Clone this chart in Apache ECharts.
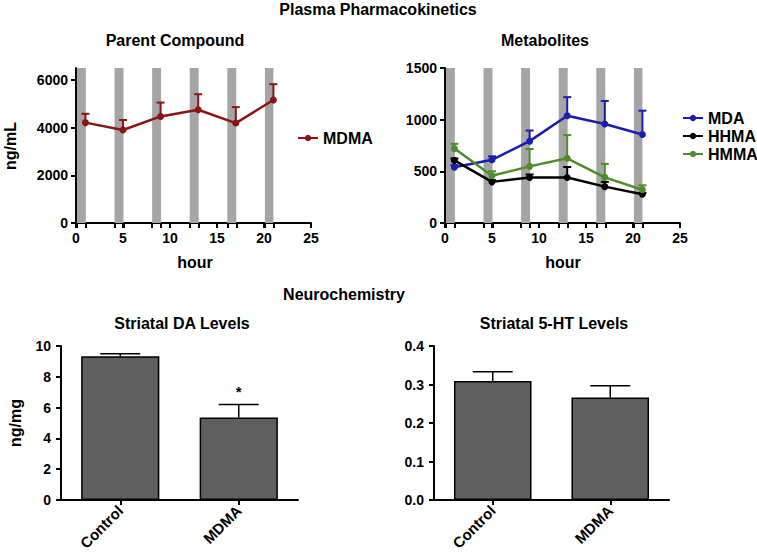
<!DOCTYPE html>
<html><head><meta charset="utf-8">
<script src="https://cdn.jsdelivr.net/npm/echarts@6/dist/echarts.min.js"></script>
<style>html,body{margin:0;padding:0;background:#fff}#c{width:757px;height:558px}</style>
</head><body><div id="c"></div>
<script>
// ---- data ----
const hours = [1, 5, 9, 13, 17, 21];
const bandStart = [0.1, 4.1, 8.1, 12.1, 16.1, 20.1];
const bandEnd = [1.05, 5.05, 9.05, 13.05, 17.05, 21.0];
const hourTicks = [0, 5, 10, 15, 20, 25];
const mdma = [4210, 3900, 4470, 4750, 4190, 5160];
const mdmaUpper = [4580, 4320, 5050, 5400, 4860, 5820];
const mda = [540, 612, 792, 1038, 958, 856];
const mdaUpper = [560, 645, 895, 1218, 1181, 1087];
const hhma = [606, 398, 441, 441, 352, 278];
const hhmaUpper = [624, 415, 470, 542, 398, 290];
const hmma = [720, 458, 548, 626, 442, 322];
const hmmaUpper = [766, 500, 716, 851, 572, 365];
const parentTicks = [0, 2000, 4000, 6000];
const groups = ['Control', 'MDMA'];
const daLevels = [9.33, 5.36];
const daUpper = [9.50, 6.20];
const daSig = ['', '*'];
const htLevels = [0.309, 0.266];
const htUpper = [0.333, 0.297];

const FONT = '"Liberation Sans", Arial, Helvetica, sans-serif';
const chart = echarts.init(document.getElementById('c'), null, {renderer: 'svg'});

const pairs = (xs, ys) => xs.map((x, i) => [x, ys[i]]);
const triples = (xs, ys, us) => xs.map((x, i) => [x, ys[i], us[i]]);
const bandData = bandStart.map((s, i) => [s, bandEnd[i], 0]);
const xTickVals = Array.from(new Set(hourTicks.concat(bandStart, bandEnd))).sort((a, b) => a - b);
const plain = v => String(v);

const axisLabelStyle = {color: '#000', fontFamily: FONT, fontWeight: 'bold', fontSize: 14};
const axisLineStyle = {show: true, lineStyle: {color: '#000', width: 2}};
const tickStyle = {show: true, length: 5, lineStyle: {color: '#000', width: 2}};

function bandSeries(ax) {
  return {
    type: 'custom', xAxisIndex: ax, yAxisIndex: ax, z: 1, silent: true,
    encode: {x: [0, 1], y: 2},
    data: bandData,
    renderItem: function (params, api) {
      const cs = params.coordSys;
      const a = api.coord([api.value(0), 0]);
      const b = api.coord([api.value(1), 0]);
      return {type: 'rect', shape: {x: a[0], y: cs.y, width: b[0] - a[0], height: cs.height},
        style: {fill: '#a5a5a5'}};
    }
  };
}
function errSeries(ax, data, color, half) {
  return {
    type: 'custom', xAxisIndex: ax, yAxisIndex: ax, z: 4, silent: true,
    encode: {x: 0, y: [1, 2]},
    data: data,
    renderItem: function (params, api) {
      const p0 = api.coord([api.value(0), api.value(1)]);
      const p1 = api.coord([api.value(0), api.value(2)]);
      const st = {stroke: color, lineWidth: 2};
      return {type: 'group', children: [
        {type: 'line', shape: {x1: p0[0], y1: p0[1], x2: p1[0], y2: p1[1]}, style: st},
        {type: 'line', shape: {x1: p1[0] - half, y1: p1[1], x2: p1[0] + half, y2: p1[1]}, style: st}
      ]};
    }
  };
}
function lineSeries(name, ax, data, color) {
  return {
    name: name, type: 'line', xAxisIndex: ax, yAxisIndex: ax, z: 5,
    data: data, symbol: 'circle', symbolSize: 7,
    lineStyle: {color: color, width: 2.5}, itemStyle: {color: color},
    animation: false
  };
}
function barErr(ax, idx, upper, labels) {
  return {
    type: 'custom', xAxisIndex: ax, yAxisIndex: ax, z: 4, silent: true,
    encode: {x: 0, y: [1, 2]},
    data: groups.map((g, i) => [i, idx[i], upper[i], labels ? labels[i] : '']),
    renderItem: function (params, api) {
      const p0 = api.coord([api.value(0), api.value(1)]);
      const p1 = api.coord([api.value(0), api.value(2)]);
      const st = {stroke: '#000', lineWidth: 1.5};
      const ch = [
        {type: 'line', shape: {x1: p0[0], y1: p0[1], x2: p1[0], y2: p1[1]}, style: st},
        {type: 'line', shape: {x1: p1[0] - 20, y1: p1[1], x2: p1[0] + 20, y2: p1[1]}, style: st}
      ];
      const t = api.value(3);
      if (t) ch.push({type: 'text', style: {text: t, x: p1[0], y: p1[1] - 6, align: 'center', verticalAlign: 'bottom',
        font: 'bold 15px ' + FONT, fill: '#000'}});
      return {type: 'group', children: ch};
    }
  };
}

function txt(text, x, y, size, rot) {
  return {type: 'text', x: x, y: y, rotation: rot || 0, silent: true,
    style: {text: text, font: 'bold ' + size + 'px ' + FONT, fill: '#000', align: 'center', verticalAlign: 'middle'}};
}

const option = {
  animation: false,
  backgroundColor: '#fff',
  graphic: [
    txt('Plasma Pharmacokinetics', 378, 9, 16),
    txt('Parent Compound', 175, 40, 16),
    txt('Metabolites', 545, 40, 16),
    txt('Neurochemistry', 344, 294, 16),
    txt('Striatal DA Levels', 182, 323.5, 16),
    txt('Striatal 5-HT Levels', 554, 323.5, 16),
    txt('hour', 195, 262, 16),
    txt('hour', 563, 262, 16),
    txt('ng/mL', 10, 146, 16, Math.PI / 2),
    txt('ng/mg', 15, 423, 16, Math.PI / 2)
  ],
  legend: [
    {data: ['MDMA'], left: 292, top: 125, itemWidth: 20, itemHeight: 8, orient: 'vertical',
      textStyle: {color: '#000', fontFamily: FONT, fontWeight: 'bold', fontSize: 16}, selectedMode: false},
    {data: ['MDA', 'HHMA', 'HMMA'], left: 677, top: 105, itemWidth: 20, itemHeight: 8, itemGap: 2, orient: 'vertical',
      textStyle: {color: '#000', fontFamily: FONT, fontWeight: 'bold', fontSize: 16}, selectedMode: false}
  ],
  grid: [
    {left: 76, top: 68, width: 235, height: 155, containLabel: false, outerBoundsMode: 'none'},
    {left: 445, top: 68, width: 235, height: 155, containLabel: false, outerBoundsMode: 'none'},
    {left: 61, top: 346, width: 237, height: 154, containLabel: false, outerBoundsMode: 'none'},
    {left: 434, top: 346, width: 235, height: 154, containLabel: false, outerBoundsMode: 'none'}
  ],
  xAxis: [
    {gridIndex: 0, type: 'value', min: 0, max: 25, interval: 5, splitLine: {show: false},
      axisLine: axisLineStyle, axisTick: Object.assign({customValues: xTickVals}, tickStyle),
      axisLabel: Object.assign({customValues: hourTicks, margin: 8, formatter: plain}, axisLabelStyle)},
    {gridIndex: 1, type: 'value', min: 0, max: 25, interval: 5, splitLine: {show: false},
      axisLine: axisLineStyle, axisTick: Object.assign({customValues: xTickVals}, tickStyle),
      axisLabel: Object.assign({customValues: hourTicks, margin: 8, formatter: plain}, axisLabelStyle)},
    {gridIndex: 2, type: 'category', data: groups, axisLine: axisLineStyle,
      axisTick: Object.assign({alignWithLabel: true}, tickStyle),
      axisLabel: Object.assign({}, axisLabelStyle, {rotate: 45, fontSize: 15, margin: 8})},
    {gridIndex: 3, type: 'category', data: groups, axisLine: axisLineStyle,
      axisTick: Object.assign({alignWithLabel: true}, tickStyle),
      axisLabel: Object.assign({}, axisLabelStyle, {rotate: 45, fontSize: 15, margin: 8})}
  ],
  yAxis: [
    {gridIndex: 0, type: 'value', min: 0, max: 6500, interval: 2000, splitLine: {show: false},
      axisLine: axisLineStyle, axisTick: Object.assign({customValues: parentTicks}, tickStyle),
      axisLabel: Object.assign({customValues: parentTicks, margin: 8, formatter: plain}, axisLabelStyle)},
    {gridIndex: 1, type: 'value', min: 0, max: 1500, interval: 500, splitLine: {show: false},
      axisLine: axisLineStyle, axisTick: tickStyle,
      axisLabel: Object.assign({margin: 8, formatter: plain}, axisLabelStyle)},
    {gridIndex: 2, type: 'value', min: 0, max: 10, interval: 2, splitLine: {show: false},
      axisLine: axisLineStyle, axisTick: tickStyle,
      axisLabel: Object.assign({margin: 10, formatter: plain}, axisLabelStyle)},
    {gridIndex: 3, type: 'value', min: 0, max: 0.4, interval: 0.1, splitLine: {show: false},
      axisLine: axisLineStyle, axisTick: tickStyle,
      axisLabel: Object.assign({margin: 10, formatter: v => v.toFixed(1)}, axisLabelStyle)}
  ],
  series: [
    bandSeries(0),
    bandSeries(1),
    lineSeries('MDMA', 0, pairs(hours, mdma), '#8c1414'),
    errSeries(0, triples(hours, mdma, mdmaUpper), '#8c1414', 4),
    lineSeries('MDA', 1, pairs(hours, mda), '#1c1cb0'),
    errSeries(1, triples(hours, mda, mdaUpper), '#1c1cb0', 4),
    lineSeries('HHMA', 1, pairs(hours, hhma), '#000000'),
    errSeries(1, triples(hours, hhma, hhmaUpper), '#000000', 4),
    lineSeries('HMMA', 1, pairs(hours, hmma), '#4e8c2c'),
    errSeries(1, triples(hours, hmma, hmmaUpper), '#4e8c2c', 4),
    {type: 'bar', xAxisIndex: 2, yAxisIndex: 2, data: daLevels, barWidth: '66%', z: 3,
      itemStyle: {color: '#5f5f5f', borderColor: '#000', borderWidth: 1.5}},
    barErr(2, daLevels, daUpper, daSig),
    {type: 'bar', xAxisIndex: 3, yAxisIndex: 3, data: htLevels, barWidth: '66%', z: 3,
      itemStyle: {color: '#5f5f5f', borderColor: '#000', borderWidth: 1.5}},
    barErr(3, htLevels, htUpper, null)
  ]
};
chart.setOption(option);
</script></body></html>
